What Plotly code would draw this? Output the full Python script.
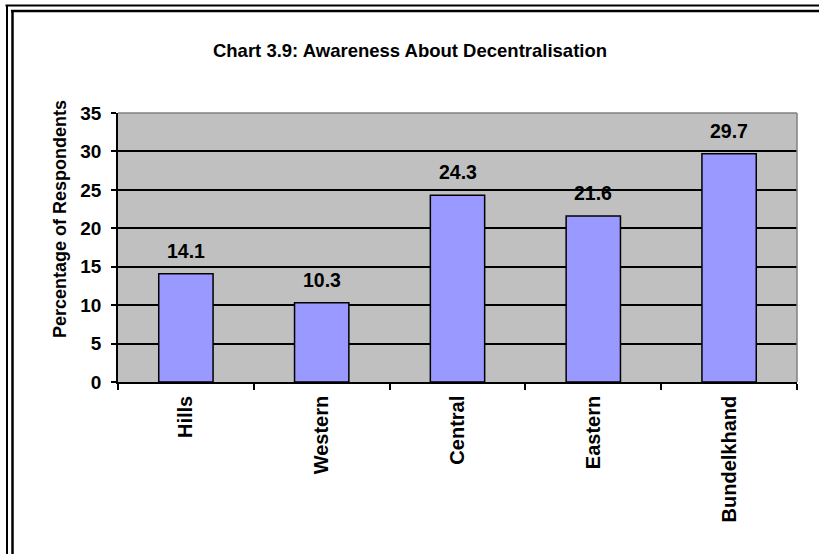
import plotly.graph_objects as go

# Awareness about decentralisation by region (% of respondents)
regions = ["Hills", "Western", "Central", "Eastern", "Bundelkhand"]
awareness_pct = [14.1, 10.3, 24.3, 21.6, 29.7]
y_ticks = [0, 5, 10, 15, 20, 25, 30, 35]

W, H = 819, 554
L, R, T, B = 118, 22, 113, 172
plot_w = W - L - R
plot_h = H - T - B


def px_x(px):
    return (px - L) / plot_w


def px_y(py):
    return (H - B - py) / plot_h


font_main = "Liberation Sans, Arial, sans-serif"

fig = go.Figure()
fig.add_trace(go.Bar(
    x=regions,
    y=awareness_pct,
    width=0.4,
    marker=dict(color="#9999FF", line=dict(color="black", width=1.5)),
    hoverinfo="x+y",
))

# value labels above each bar
for r, v in zip(regions, awareness_pct):
    fig.add_annotation(
        x=r, y=v, text=f"<b>{v}</b>", showarrow=False,
        yanchor="middle", yshift=23,
        font=dict(family=font_main, size=19.5, color="black"),
    )

# y-axis caption, set slightly above the plot's vertical centre
fig.add_annotation(
    xref="paper", yref="paper", x=px_x(60), y=px_y(219),
    text="<b>Percentage of Respondents</b>", textangle=-90,
    showarrow=False, xanchor="center", yanchor="middle",
    font=dict(family=font_main, size=18, color="black"),
)

shapes = []
# gray frame on top and right of the plot area
shapes.append(dict(type="line", xref="paper", yref="paper", x0=0, x1=1, y0=1, y1=1,
                   line=dict(color="#808080", width=1.5), layer="above"))
shapes.append(dict(type="line", xref="paper", yref="paper", x0=1, x1=1, y0=0, y1=1,
                   line=dict(color="#808080", width=1.5), layer="above"))
# double page border (top and left)
for pos, w in [(5.5, 2), (11, 2.5)]:
    shapes.append(dict(type="line", xref="paper", yref="paper",
                       x0=px_x(pos), x1=px_x(W + 20), y0=px_y(pos), y1=px_y(pos),
                       line=dict(color="black", width=w)))
for pos, w in [(7, 2), (12.5, 2.5)]:
    ytop = 5.5 if pos == 7 else 11
    shapes.append(dict(type="line", xref="paper", yref="paper",
                       x0=px_x(pos), x1=px_x(pos), y0=px_y(ytop), y1=px_y(H + 20),
                       line=dict(color="black", width=w)))

fig.update_layout(
    width=W, height=H,
    margin=dict(l=L, r=R, t=T, b=B, pad=0),
    paper_bgcolor="white",
    plot_bgcolor="#C0C0C0",
    showlegend=False,
    shapes=shapes,
    title=dict(
        text="<b>Chart 3.9: Awareness About Decentralisation</b>",
        x=px_x(410), xref="paper", xanchor="center",
        y=1 - 51 / H, yref="container", yanchor="middle",
        font=dict(family=font_main, size=18.5, color="black"),
    ),
    font=dict(family=font_main, color="black"),
)

fig.update_xaxes(
    showline=True, linecolor="black", linewidth=1.5,
    ticks="outside", ticklen=6, tickwidth=1.5, tickcolor="black",
    tickson="boundaries",
    tickangle=-90,
    tickfont=dict(family=font_main, size=20, color="black"),
    ticklabelstandoff=4,
    tickprefix="<b>", ticksuffix="</b>",
    showgrid=False,
)
fig.update_yaxes(
    range=[0, 35],
    tickvals=y_ticks,
    ticktext=[f"<b>{t}</b>" for t in y_ticks],
    showline=True, linecolor="black", linewidth=1.5,
    ticks="outside", ticklen=5, tickwidth=1.5, tickcolor="black",
    tickfont=dict(family=font_main, size=19, color="black"),
    ticklabelstandoff=6,
    showgrid=True, gridcolor="black", gridwidth=1.5,
    zeroline=False,
)

fig.write_html("out.html")
